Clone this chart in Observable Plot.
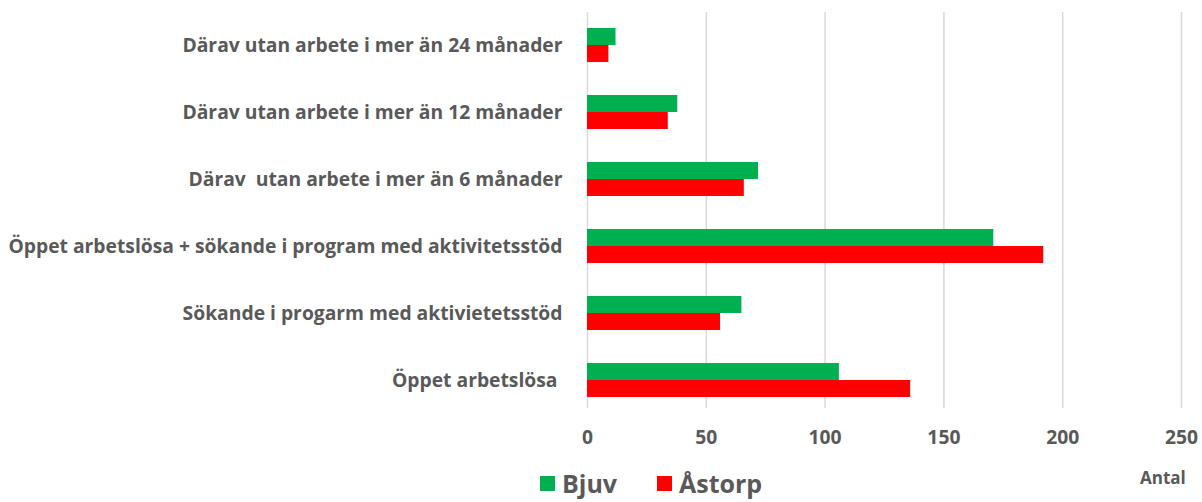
<!DOCTYPE html>
<html><head><meta charset="utf-8">
<script src="https://cdn.jsdelivr.net/npm/d3@7"></script>
<script src="https://cdn.jsdelivr.net/npm/@observablehq/plot@0.6"></script>
<style>
body{margin:0;background:#fff;font-family:"Open Sans", sans-serif;}
#wrap{position:relative;width:1202px;height:502px;overflow:hidden;background:#fff}
.item{position:absolute;top:469px;display:flex;align-items:center;font-weight:bold;font-size:25px;color:#595959;line-height:28px}
.sw{width:15px;height:15px;margin-right:7px;flex:none}
.antal{position:absolute;left:1140px;top:466px;font-weight:bold;font-size:17px;color:#595959}
</style></head>
<body><div id="wrap"></div>
<script>
const categories = [
  "Därav utan arbete i mer än 24 månader",
  "Därav utan arbete i mer än 12 månader",
  "Därav  utan arbete i mer än 6 månader",
  "Öppet arbetslösa + sökande i program med aktivitetsstöd",
  "Sökande i progarm med aktivietetsstöd",
  "Öppet arbetslösa "
];
const bjuv = [12, 38, 72, 171, 65, 106];
const astorp = [9, 34, 66, 192, 56, 136];
const seriesNames = ["Bjuv", "Åstorp"];
const seriesColors = ["#00b050", "#ff0000"];
const xTicks = [0, 50, 100, 150, 200, 250];
const axisTitle = "Antal";

const data = categories.flatMap((c, i) => [
  {category: c, series: seriesNames[0], value: bjuv[i]},
  {category: c, series: seriesNames[1], value: astorp[i]}
]);

const chart = Plot.plot({
  width: 1202, height: 470,
  marginLeft: 587, marginRight: 21, marginTop: 12, marginBottom: 56,
  style: {fontFamily: "'Open Sans', sans-serif", fontSize: "19.3px", fontWeight: "bold", color: "#595959", background: "#fff"},
  x: {domain: [0, 250]},
  y: {domain: categories, paddingInner: 0.4925, paddingOuter: 0.246},
  color: {domain: seriesNames, range: seriesColors},
  marks: [
    Plot.gridX(xTicks, {stroke: "#d9d9d9", strokeOpacity: 1, strokeWidth: 1.5, insetBottom: 6}),
    Plot.barX(data.filter(d => d.series === seriesNames[0]), {y: "category", x: "value", fill: "series", insetBottom: 17}),
    Plot.barX(data.filter(d => d.series === seriesNames[1]), {y: "category", x: "value", fill: "series", insetTop: 17}),
    Plot.axisY({tickSize: 0, tickPadding: 25, label: null}),
    Plot.axisX({ticks: xTicks, tickSize: 0, tickPadding: 16, label: null, tickFormat: d => String(d)})
  ]
});

const wrap = document.getElementById("wrap");
wrap.appendChild(chart);

const legendLeft = [540, 657];
seriesNames.forEach((s, i) => {
  const item = document.createElement("div");
  item.className = "item";
  item.style.left = legendLeft[i] + "px";
  const sw = document.createElement("span");
  sw.className = "sw";
  sw.style.background = seriesColors[i];
  const t = document.createElement("span");
  t.textContent = s;
  item.appendChild(sw); item.appendChild(t);
  wrap.appendChild(item);
});

const antal = document.createElement("div");
antal.className = "antal";
antal.textContent = axisTitle;
wrap.appendChild(antal);
</script>
</body></html>
